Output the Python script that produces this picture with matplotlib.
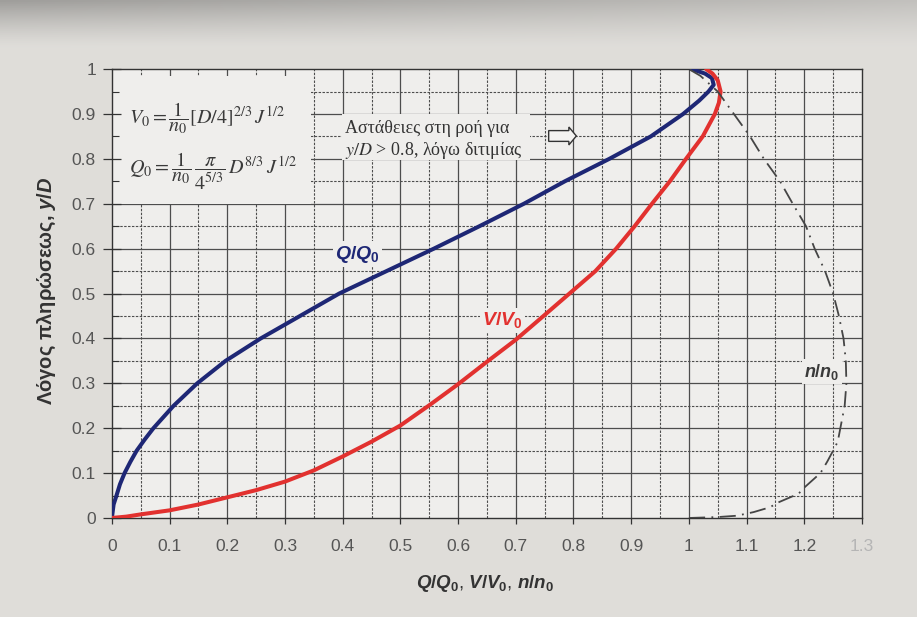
import numpy as np
import matplotlib
matplotlib.use("Agg")
import matplotlib.pyplot as plt
from matplotlib.patches import Rectangle, FancyArrow

plt.rcParams['font.family'] = ['Liberation Sans', 'DejaVu Sans']
plt.rcParams['mathtext.fontset'] = 'custom'
plt.rcParams['mathtext.it'] = 'Liberation Sans:bold:italic'
plt.rcParams['mathtext.rm'] = 'Liberation Sans:bold'
plt.rcParams['mathtext.bf'] = 'Liberation Sans:bold'

# ---------------- data ----------------
# Q/Q0 curve: filling ratio y/D and discharge ratio
q_yd = [0.0, 0.01, 0.03, 0.05, 0.075, 0.10, 0.125, 0.15, 0.175, 0.20, 0.25, 0.30,
        0.35, 0.40, 0.45, 0.50, 0.55, 0.60, 0.65, 0.70, 0.75, 0.80, 0.85, 0.90,
        0.93, 0.95, 0.965, 0.98, 0.99, 1.0]
q_ratio = [0.0, 0.001, 0.003, 0.008, 0.014, 0.022, 0.032, 0.043, 0.057, 0.072,
           0.107, 0.148, 0.197, 0.258, 0.326, 0.394, 0.476, 0.558, 0.637, 0.714,
           0.785, 0.862, 0.934, 0.990, 1.018, 1.034, 1.043, 1.040, 1.028, 1.005]

# V/V0 curve
v_yd = [0.0, 0.003, 0.008, 0.017, 0.030, 0.046, 0.062, 0.081, 0.106, 0.137,
        0.170, 0.206, 0.251, 0.298, 0.348, 0.397, 0.450, 0.500, 0.550, 0.600,
        0.650, 0.700, 0.750, 0.800, 0.850, 0.900, 0.925, 0.950, 0.975, 0.990, 1.0]
v_ratio = [0.0, 0.025, 0.05, 0.10, 0.15, 0.20, 0.25, 0.30, 0.35, 0.40,
           0.45, 0.50, 0.55, 0.60, 0.65, 0.70, 0.748, 0.793, 0.838, 0.874,
           0.906, 0.936, 0.967, 0.995, 1.024, 1.045, 1.052, 1.055, 1.050, 1.041, 1.030]

# n/n0 curve
n_yd = [0.0, 0.002, 0.005, 0.013, 0.024, 0.033, 0.054, 0.070, 0.100, 0.126,
        0.150, 0.170, 0.210, 0.250, 0.300, 0.350, 0.400, 0.450, 0.500, 0.550,
        0.600, 0.650, 0.700, 0.750, 0.800, 0.850, 0.900, 0.950, 0.985, 1.0]
n_ratio = [1.0, 1.05, 1.083, 1.112, 1.141, 1.152, 1.190, 1.202, 1.228, 1.240,
           1.250, 1.258, 1.264, 1.270, 1.273, 1.272, 1.268, 1.260, 1.250, 1.236,
           1.218, 1.203, 1.180, 1.158, 1.130, 1.106, 1.078, 1.050, 1.020, 1.0]

x_ticks = [0, 0.1, 0.2, 0.3, 0.4, 0.5, 0.6, 0.7, 0.8, 0.9, 1.0, 1.1, 1.2, 1.3]
x_tick_labels = ['0', '0.1', '0.2', '0.3', '0.4', '0.5', '0.6', '0.7', '0.8',
                 '0.9', '1', '1.1', '1.2', '1.3']
x_minor = [0.05, 0.15, 0.25, 0.35, 0.45, 0.55, 0.65, 0.75, 0.85, 0.95, 1.05, 1.15, 1.25]
y_ticks = [0, 0.1, 0.2, 0.3, 0.4, 0.5, 0.6, 0.7, 0.8, 0.9, 1.0]
y_tick_labels = ['0', '0.1', '0.2', '0.3', '0.4', '0.5', '0.6', '0.7', '0.8', '0.9', '1']
y_minor = [0.05, 0.15, 0.25, 0.35, 0.45, 0.55, 0.65, 0.75, 0.85, 0.95]

# ---------------- figure ----------------
fig = plt.figure(figsize=(9.17, 6.17), dpi=100)
fig.patch.set_facecolor('#dedcd8')

# photographic background shading
bg = fig.add_axes([0, 0, 1, 1], zorder=-10)
rows = np.linspace(0, 1, 300)[:, None]
cols = np.linspace(0, 1, 300)[None, :]
shade = 0.875 - 0.25 * np.clip((rows - 0.925) / 0.075, 0, 1) ** 1.3 * (1 - 0.55 * cols)
bg.imshow(np.dstack([shade, shade * 0.992, shade * 0.975]), extent=[0, 1, 0, 1],
          aspect='auto', origin='lower')
bg.set_axis_off()

paper = '#efeeec'
ax = fig.add_axes([0.122, 0.1605, 0.818, 0.7275])
ax.set_facecolor(paper)
ax.set_xlim(0, 1.3)
ax.set_ylim(0, 1)

gc = '#4d4d4d'
for xv in x_ticks[1:-1]:
    ax.axvline(xv, color=gc, lw=0.9, zorder=1)
for xv in x_minor:
    ax.axvline(xv, color=gc, lw=0.8, ls=(0, (2.2, 1.3)), zorder=1)
for yv in y_ticks[1:-1]:
    ax.axhline(yv, color=gc, lw=0.9, zorder=1)
for yv in y_minor:
    ax.axhline(yv, color=gc, lw=0.8, ls=(0, (2.2, 1.3)), zorder=1)

# formula panel (masks grid)
ax.add_patch(Rectangle((0.0, 0.70), 0.345, 0.285, facecolor=paper,
                       edgecolor='none', zorder=1.5))
# instability note panel
ax.add_patch(Rectangle((0.398, 0.797), 0.327, 0.103, facecolor=paper,
                       edgecolor='none', zorder=1.5))

ax.set_axisbelow(False)
for s in ax.spines.values():
    s.set_color('#333333')
    s.set_linewidth(1.0)

ax.set_xticks(x_ticks)
ax.set_xticklabels(x_tick_labels)
ax.set_yticks(y_ticks)
ax.set_yticklabels(y_tick_labels)
ax.set_yticks(y_minor, minor=True)
ax.tick_params(axis='x', which='major', direction='out', length=4, width=0.9,
               color='#333333', pad=11, labelsize=12.5, labelcolor='#555555')
ax.tick_params(axis='y', which='major', direction='inout', length=13, width=0.9,
               color='#333333', pad=5, labelsize=12.5, labelcolor='#555555')
ax.tick_params(axis='y', which='minor', direction='in', length=5, width=0.8,
               color='#333333')
ax.get_xticklabels()[-1].set_color('#b5b5b5')

# curves
navy = '#1e2775'
red = '#e2312f'
ax.plot(q_ratio, q_yd, color=navy, lw=2.9, zorder=3, solid_capstyle='round',
        solid_joinstyle='round')
ax.plot(v_ratio, v_yd, color=red, lw=2.9, zorder=3, solid_capstyle='round',
        solid_joinstyle='round')
ax.plot(n_ratio, n_yd, color='#454545', lw=1.3, ls=(0, (9, 3.5, 1, 3.5)), zorder=3)

# curve labels
ax.text(0.425, 0.588, r'$Q/Q_0$', color=navy, fontsize=14, ha='center', va='center',
        zorder=2.8, bbox=dict(facecolor=paper, edgecolor='none', pad=1.5))
ax.text(0.677, 0.440, r'$V/V_0$', color=red, fontsize=14, ha='center', va='center',
        zorder=2.8, bbox=dict(facecolor=paper, edgecolor='none', pad=1.5))
ax.text(1.230, 0.326, r'$n/n_0$', color='#3a3a3a', fontsize=13, ha='center', va='center',
        zorder=2.8, bbox=dict(facecolor=paper, edgecolor='none', pad=1.5))

# formulas
ax.text(0.030, 0.892, r'$V_0=\dfrac{1}{n_0}\left[D/4\right]^{2/3}\,J^{1/2}$',
        math_fontfamily='stix', fontsize=14.5, color='#3a3a3a', va='center', ha='left',
        zorder=4)
ax.text(0.030, 0.772, r'$Q_0=\dfrac{1}{n_0}\,\dfrac{\pi}{4^{5/3}}\,D^{8/3}\,J^{1/2}$',
        math_fontfamily='stix', fontsize=14.5, color='#3a3a3a', va='center', ha='left',
        zorder=4)

# instability note
ax.text(0.404, 0.868, 'Αστάθειες στη ροή για', family=['Liberation Serif', 'DejaVu Serif'],
        fontsize=13, color='#333333', va='center', ha='left', zorder=4)
ax.text(0.404, 0.818, r'$y/D$ > 0.8, λόγω διτιμίας', family=['Liberation Serif', 'DejaVu Serif'],
        math_fontfamily='stix', fontsize=13, color='#333333', va='center', ha='left', zorder=4)
ax.add_patch(FancyArrow(0.757, 0.851, 0.048, 0.0, width=0.024, head_width=0.040,
                        head_length=0.013, length_includes_head=True,
                        facecolor='#f4f3f1', edgecolor='#333333', lw=1.0, zorder=4))

# axis labels
ax.set_xlabel(r'$Q/Q_0$, $V/V_0$, $n/n_0$', fontsize=13.5, color='#333333')
ax.xaxis.set_label_coords(0.497, -0.145)
ax.xaxis.label.set_va('center')
ax.set_ylabel(r'Λόγος πληρώσεως, $y/D$', fontsize=14.5, color='#333333', fontweight='bold')
ax.yaxis.set_label_coords(-0.087, 0.505)
ax.yaxis.label.set_va('center')

fig.savefig('out.png', dpi=100, facecolor=fig.get_facecolor())
